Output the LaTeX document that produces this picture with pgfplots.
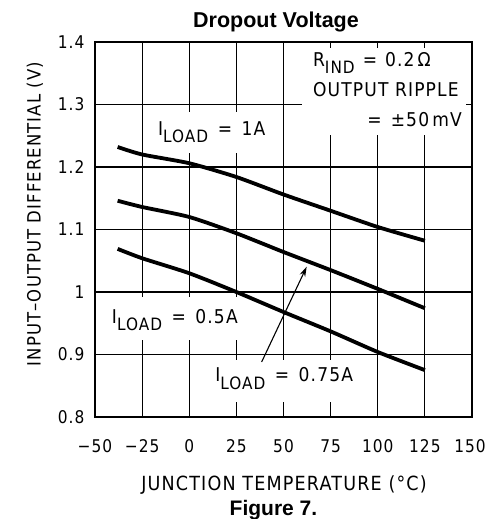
\documentclass[border=0pt]{standalone}
\usepackage{fontspec}
\usepackage{pgfplots}
\pgfplotsset{compat=1.18}
\usetikzlibrary{arrows.meta}
\setmainfont{DejaVu Sans}
\newfontfamily\lblfont[FakeStretch=0.9, LetterSpace=6]{DejaVu Sans}
\newfontfamily\tckfont[FakeStretch=0.88, LetterSpace=6]{DejaVu Sans}
\newfontfamily\headfont{Liberation Sans}

\newcommand{\lbl}{\lblfont\fontsize{19}{19}\selectfont}
\newcommand{\alb}{\lblfont\fontsize{19.5}{19.5}\selectfont}
\newcommand{\ylb}{\lblfont\fontsize{18.3}{18.3}\selectfont}
\newcommand{\tck}{\tckfont\fontsize{17.5}{17.5}\selectfont}
\newcommand{\sub}[1]{\raisebox{-0.7ex}{\fontsize{17}{17}\selectfont #1}}
\newcommand{\eq}{\hspace{9.5pt}=\hspace{9.5pt}}

\begin{document}
\begin{tikzpicture}
\useasboundingbox (-95pt,-102pt) rectangle (392pt,417pt);
\begin{axis}[
    at={(0pt,0pt)}, anchor=south west,
    scale only axis,
    width=377pt, height=375pt,
    xmin=-50, xmax=150, ymin=0.8, ymax=1.4,
    xtick={-50,-25,...,150},
    ytick={0.8,0.9,1,1.1,1.2,1.3,1.4},
    xticklabels={−50,−25,0,25,50,75,100,125,\hspace*{-4pt}150},
    yticklabels={0.8,0.9,1,1.1,1.2,1.3,1.4},
    tick label style={font=\tck},
    xticklabel style={yshift=-19pt},
    yticklabel style={xshift=-7pt},
    grid=major,
    major grid style={black, line width=1.1pt},
    major tick length=0pt,
    axis line style={line width=1.6pt},
    clip=false,
]
% white boxes behind the labels
\fill[white] (axis cs:59.8,1.391) rectangle (axis cs:147,1.2512);
\fill[white] (axis cs:-20.8,1.288) rectangle (axis cs:45.5,1.2224);
\fill[white] (axis cs:-44.7,0.992) rectangle (axis cs:29.6,0.9232);
\fill[white] (axis cs:11.0,0.8912) rectangle (axis cs:91.6,0.8240);

% I_LOAD = 1A
\addplot[black, line width=3.8pt, smooth, tension=0.4] coordinates {
    (-38,1.232) (-25,1.220) (0,1.206) (25,1.184) (50,1.156) (75,1.130) (100,1.104) (125,1.082)
};
% I_LOAD = 0.75A
\addplot[black, line width=3.8pt, smooth, tension=0.4] coordinates {
    (-38,1.146) (-25,1.136) (0,1.120) (25,1.094) (50,1.064) (75,1.035) (100,1.005) (125,0.974)
};
% I_LOAD = 0.5A
\addplot[black, line width=3.8pt, smooth, tension=0.4] coordinates {
    (-38,1.069) (-25,1.054) (0,1.030) (25,1.000) (50,0.968) (75,0.937) (100,0.904) (125,0.875)
};

\node[anchor=base west, inner sep=0pt, font=\lbl] at (axis cs:-16.6,1.251) {I\sub{LOAD}\eq 1A};
\node[anchor=base west, inner sep=0pt, font=\lbl] at (axis cs:-41.1,0.950) {I\sub{LOAD}\eq 0.5A};
\node[anchor=base west, inner sep=0pt, font=\lbl] at (axis cs:13.7,0.856) {I\sub{LOAD}\eq 0.75A};
\node[anchor=base west, inner sep=0pt, font=\lbl] at (axis cs:65.6,1.3605) {R\sub{IND}\hspace{8pt}=\hspace{8pt}0.2\,Ω};
\node[anchor=base west, inner sep=0pt, font=\lbl] at (axis cs:65.6,1.312) {OUTPUT RIPPLE};
\node[anchor=base east, inner sep=0pt, font=\lbl] at (axis cs:144.7,1.2655) {=\hspace{9pt}±50\,mV};

\draw[line width=1.1pt, -{Stealth[length=10pt,width=6pt]}] (axis cs:38.4,0.888) -- (axis cs:62.3,1.0405);
\end{axis}

\node[font=\headfont\bfseries\fontsize{21.5}{21.5}\selectfont] at (181pt,395pt) {Dropout Voltage};
\node[font=\alb] at (189pt,-68pt) {JUNCTION TEMPERATURE (°C)};
\node[font=\ylb, rotate=90] at (-60pt,203pt) {INPUT–OUTPUT DIFFERENTIAL (V)};
\node[font=\headfont\bfseries\fontsize{21}{21}\selectfont] at (178.5pt,-93pt) {Figure 7.};
\end{tikzpicture}
\end{document}
